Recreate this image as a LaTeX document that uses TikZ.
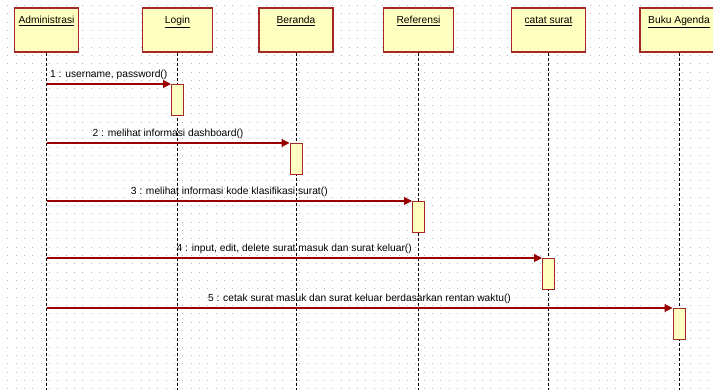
\documentclass[tikz,border=0pt]{standalone}
\usepackage{fontspec}
\setmainfont{Liberation Sans}
\usetikzlibrary{arrows.meta}
\definecolor{msgred}{RGB}{153,0,0}
\definecolor{boxred}{RGB}{165,40,40}
\definecolor{boxfill}{RGB}{255,255,192}
\definecolor{dotgrey}{RGB}{185,185,185}
\begin{document}
\begin{tikzpicture}[x=1pt,y=-1pt,
  font=\fontsize{10.25}{12}\selectfont,
  header/.style={draw=boxred, line width=1.2pt, fill=boxfill, minimum width=#1,
    inner xsep=0pt, inner ysep=0pt, text height=15.5pt, text depth=28.5pt},
  act/.style={draw=boxred, line width=1pt, fill=boxfill, minimum width=12pt,
    minimum height=31pt, inner sep=0pt, anchor=north},
  lifeline/.style={black, line width=0.9pt, dash pattern=on 3pt off 2pt},
  msg/.style={msgred, line width=1.1pt, -{Triangle[length=8pt,width=8pt]}},
  msglabel/.style={black, anchor=base, yshift=6pt, inner sep=0pt}]
\useasboundingbox (0,0) rectangle (713,390);
\clip (0,0) rectangle (713,390);
\fill[white] (0,0) rectangle (713,390);
% dotted grid
\foreach \i in {0,...,85}{
  \foreach \j in {0,...,46}{
    \fill[dotgrey] ({7.3+8.33*\i},{5+8.33*\j}) rectangle +(1,1);
  }
}
% headers
\node[header=64pt] (adm) at (46.5,30) {\underline{Administrasi}};
\node[header=70pt] (login) at (177.5,30) {\underline{Login}};
\node[header=74pt] (ber) at (296,30) {\underline{Beranda}};
\node[header=70pt] (ref) at (418.5,30) {\underline{Referensi}};
\node[header=74pt] (cat) at (548.5,30) {\underline{catat surat}};
\node[header=78pt] (buku) at (679,30) {\underline{Buku Agenda}};
% lifeline ends
\coordinate (admE) at (adm.south |- 0,392);
\coordinate (loginE) at (login.south |- 0,392);
\coordinate (berE) at (ber.south |- 0,392);
\coordinate (refE) at (ref.south |- 0,392);
\coordinate (catE) at (cat.south |- 0,392);
\coordinate (bukuE) at (buku.south |- 0,392);
\draw[lifeline] (adm.south) -- (admE);
\draw[lifeline] (login.south) -- (loginE);
\draw[lifeline] (ber.south) -- (berE);
\draw[lifeline] (ref.south) -- (refE);
\draw[lifeline] (cat.south) -- (catE);
\draw[lifeline] (buku.south) -- (bukuE);
% activations
\node[act] (a1) at (login.south |- 0,84) {};
\node[act] (a2) at (ber.south |- 0,143) {};
\node[act] (a3) at (ref.south |- 0,201) {};
\node[act] (a4) at (cat.south |- 0,258) {};
\node[act] (a5) at (buku.south |- 0,308) {};
% message starts
\coordinate (s1) at (adm.south |- 0,84);
\coordinate (s2) at (adm.south |- 0,143);
\coordinate (s3) at (adm.south |- 0,201);
\coordinate (s4) at (adm.south |- 0,258);
\coordinate (s5) at (adm.south |- 0,308);
% messages
\draw[msg] (s1) -- (a1.north west) node[msglabel, pos=0.5] (l1) {1 : username, password()};
\draw[msg] (s2) -- (a2.north west) node[msglabel, pos=0.5] (l2) {2 : melihat informasi dashboard()};
\draw[msg] (s3) -- (a3.north west) node[msglabel, pos=0.5] (l3) {3 : melihat informasi kode klasifikasi surat()};
\draw[msg] (s4) -- (a4.north west) node[msglabel, pos=0.5] (l4) {4 : input, edit, delete surat masuk dan surat keluar()};
\draw[msg] (s5) -- (a5.north west) node[msglabel, pos=0.5] (l5) {5 : cetak surat masuk dan surat keluar berdasarkan rentan waktu()};
\end{tikzpicture}
\end{document}
